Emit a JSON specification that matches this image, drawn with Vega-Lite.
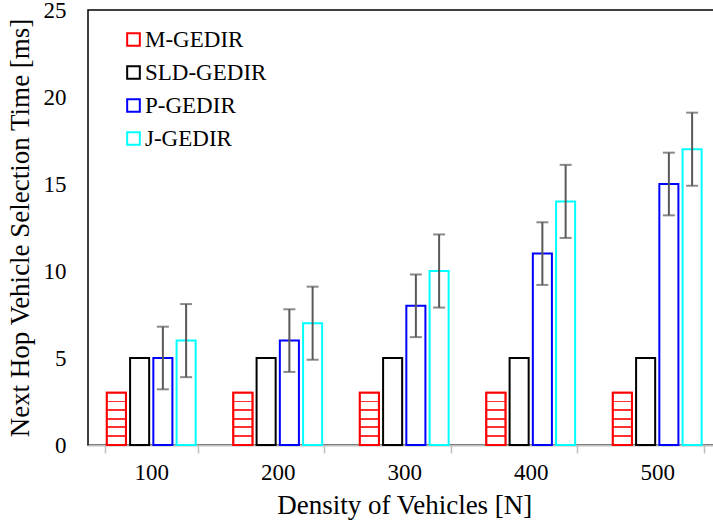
{
  "$schema": "https://vega.github.io/schema/vega-lite/v6.json",
  "width": 632.5,
  "height": 435,
  "autosize": "none",
  "padding": {"left": 88, "top": 10, "right": 0, "bottom": 84},
  "config": {
    "font": "Liberation Serif",
    "view": {"stroke": "black", "strokeWidth": 1.5}
  },
  "data": {
    "values": [
      {"N": "100", "series": "M-GEDIR", "value": 3},
      {"N": "100", "series": "SLD-GEDIR", "value": 5},
      {"N": "100", "series": "P-GEDIR", "value": 5, "lo": 3.2, "hi": 6.8},
      {"N": "100", "series": "J-GEDIR", "value": 6, "lo": 3.9, "hi": 8.1},
      {"N": "200", "series": "M-GEDIR", "value": 3},
      {"N": "200", "series": "SLD-GEDIR", "value": 5},
      {"N": "200", "series": "P-GEDIR", "value": 6, "lo": 4.2, "hi": 7.8},
      {"N": "200", "series": "J-GEDIR", "value": 7, "lo": 4.9, "hi": 9.1},
      {"N": "300", "series": "M-GEDIR", "value": 3},
      {"N": "300", "series": "SLD-GEDIR", "value": 5},
      {"N": "300", "series": "P-GEDIR", "value": 8, "lo": 6.2, "hi": 9.8},
      {"N": "300", "series": "J-GEDIR", "value": 10, "lo": 7.9, "hi": 12.1},
      {"N": "400", "series": "M-GEDIR", "value": 3},
      {"N": "400", "series": "SLD-GEDIR", "value": 5},
      {"N": "400", "series": "P-GEDIR", "value": 11, "lo": 9.2, "hi": 12.8},
      {"N": "400", "series": "J-GEDIR", "value": 14, "lo": 11.9, "hi": 16.1},
      {"N": "500", "series": "M-GEDIR", "value": 3},
      {"N": "500", "series": "SLD-GEDIR", "value": 5},
      {"N": "500", "series": "P-GEDIR", "value": 15, "lo": 13.2, "hi": 16.8},
      {"N": "500", "series": "J-GEDIR", "value": 17, "lo": 14.9, "hi": 19.1}
    ]
  },
  "encoding": {
    "x": {
      "field": "N", "type": "nominal",
      "scale": {"paddingInner": 0.265, "paddingOuter": 0.1325},
      "axis": {
        "labelAngle": 0, "domainColor": "#bfbfbf", "domainWidth": 2,
        "tickColor": "#bfbfbf", "tickSize": 8, "tickWidth": 1.5, "tickBand": "extent",
        "labelFont": "Liberation Serif", "labelFontSize": 23, "labelColor": "black", "labelPadding": 8,
        "title": "Density of Vehicles [N]", "titleFont": "Liberation Serif", "titleFontSize": 27,
        "titleFontWeight": "normal", "titleColor": "black", "titlePadding": 8
      }
    },
    "xOffset": {
      "field": "series", "type": "nominal",
      "scale": {"domain": ["M-GEDIR", "SLD-GEDIR", "P-GEDIR", "J-GEDIR"], "paddingInner": 0.18, "paddingOuter": 0.09}
    }
  },
  "layer": [
    {
      "mark": {"type": "bar", "fill": "white", "strokeWidth": 2},
      "encoding": {
        "y": {
          "field": "value", "type": "quantitative",
          "scale": {"domain": [0, 25], "nice": false},
          "axis": {
            "values": [0, 5, 10, 15, 20, 25], "domain": false, "ticks": false, "grid": false,
            "labelFont": "Liberation Serif", "labelFontSize": 23, "labelColor": "black", "labelPadding": 22,
            "title": "Next Hop Vehicle Selection Time [ms]", "titleFont": "Liberation Serif", "titleFontSize": 27,
            "titleFontWeight": "normal", "titleColor": "black", "titlePadding": 9
          }
        },
        "stroke": {
          "field": "series", "type": "nominal",
          "scale": {"domain": ["M-GEDIR", "SLD-GEDIR", "P-GEDIR", "J-GEDIR"], "range": ["#ff0000", "#000000", "#0000ff", "#00ffff"]},
          "legend": {
            "orient": "none", "legendX": 34, "legendY": 18, "title": null,
            "labelFont": "Liberation Serif", "labelFontSize": 23, "labelColor": "black", "symbolType": "square",
            "symbolSize": 160, "symbolStrokeWidth": 2, "symbolFillColor": "white",
            "rowPadding": 9, "labelOffset": 0
          }
        }
      }
    },
    {
      "transform": [{"filter": "datum.series === 'M-GEDIR'"}],
      "mark": {
        "type": "bar", "stroke": "#ff0000", "strokeWidth": 2,
        "fill": {
          "gradient": "linear", "x1": 0, "y1": 0, "x2": 0, "y2": 1,
          "stops": [
            {"offset": 0, "color": "#ffffff"},
            {"offset": 0.15, "color": "#ffffff"},
            {"offset": 0.15, "color": "#ff3030"},
            {"offset": 0.185, "color": "#ff3030"},
            {"offset": 0.185, "color": "#ffffff"},
            {"offset": 0.315, "color": "#ffffff"},
            {"offset": 0.315, "color": "#ff3030"},
            {"offset": 0.35, "color": "#ff3030"},
            {"offset": 0.35, "color": "#ffffff"},
            {"offset": 0.48, "color": "#ffffff"},
            {"offset": 0.48, "color": "#ff3030"},
            {"offset": 0.515, "color": "#ff3030"},
            {"offset": 0.515, "color": "#ffffff"},
            {"offset": 0.645, "color": "#ffffff"},
            {"offset": 0.645, "color": "#ff3030"},
            {"offset": 0.68, "color": "#ff3030"},
            {"offset": 0.68, "color": "#ffffff"},
            {"offset": 0.81, "color": "#ffffff"},
            {"offset": 0.81, "color": "#ff3030"},
            {"offset": 0.845, "color": "#ff3030"},
            {"offset": 0.845, "color": "#ffffff"},
            {"offset": 1, "color": "#ffffff"}
          ]
        }
      },
      "encoding": {
        "y": {"field": "value", "type": "quantitative"}
      }
    },
    {
      "transform": [{"filter": "isValid(datum.lo)"}],
      "mark": {"type": "rule", "color": "#595959", "strokeWidth": 2},
      "encoding": {
        "y": {"field": "lo", "type": "quantitative"},
        "y2": {"field": "hi"}
      }
    },
    {
      "transform": [{"filter": "isValid(datum.lo)"}],
      "mark": {"type": "tick", "color": "#595959", "thickness": 2, "size": 12},
      "encoding": {
        "y": {"field": "lo", "type": "quantitative"}
      }
    },
    {
      "transform": [{"filter": "isValid(datum.lo)"}],
      "mark": {"type": "tick", "color": "#595959", "thickness": 2, "size": 12},
      "encoding": {
        "y": {"field": "hi", "type": "quantitative"}
      }
    }
  ]
}
